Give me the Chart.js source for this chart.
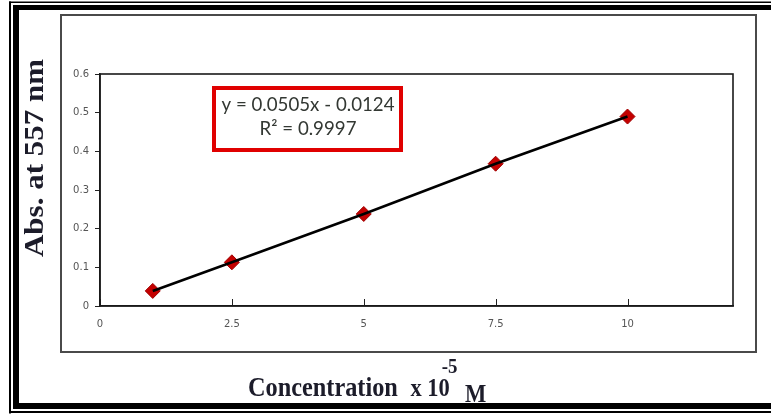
<!DOCTYPE html>
<html>
<head>
<meta charset="utf-8">
<script src="https://cdn.jsdelivr.net/npm/chart.js@4.4.1/dist/chart.umd.min.js"></script>
<style>
html,body{margin:0;padding:0;background:#fff;overflow:hidden;}
canvas{display:block;}
</style>
</head>
<body>
<canvas id="c" width="771" height="415"></canvas>
<script>
// ---- data ----
const concentrations = [1, 2.5, 5, 7.5, 10];
const absorbances = [0.039, 0.113, 0.238, 0.368, 0.490];
const xTicks = [0, 2.5, 5, 7.5, 10];
const yTicks = [0, 0.1, 0.2, 0.3, 0.4, 0.5, 0.6];
const xMax = 12;
const yMax = 0.6;
const equationLines = ['y = 0.0505x - 0.0124', 'R² = 0.9997'];
const yTitle = 'Abs. at 557 nm';
const xTitleMain = 'Concentration';
const xTitleTen = 'x 10';
const xTitleExp = '-5';
const xTitleUnit = 'M';

const points = concentrations.map((x, i) => ({x: x, y: absorbances[i]}));

const decor = {
  id: 'decor',
  beforeDraw(chart) {
    const ctx = chart.ctx;
    ctx.save();
    ctx.fillStyle = '#fff';
    ctx.fillRect(0, 0, chart.width, chart.height);
    // outer double frame (thin + thick), right side runs off the picture
    ctx.fillStyle = '#000';
    ctx.fillRect(9, 1.5, 800, 1.5);
    ctx.fillRect(9, 1.5, 2, 412);
    ctx.fillRect(9, 411, 800, 2);
    ctx.fillRect(13, 5, 800, 5);
    ctx.fillRect(13, 5, 6, 404);
    ctx.fillRect(13, 403, 800, 6);
    // gray inner box
    ctx.strokeStyle = '#4a4a4a';
    ctx.lineWidth = 2;
    ctx.strokeRect(61, 15, 695, 337);
    ctx.restore();
  },
  afterDraw(chart) {
    const ctx = chart.ctx;
    const a = chart.chartArea;
    const xs = chart.scales.x;
    ctx.save();
    // inward x ticks
    ctx.strokeStyle = '#222';
    ctx.lineWidth = 1;
    xTicks.forEach(v => {
      const px = Math.round(xs.getPixelForValue(v)) + 0.5;
      ctx.beginPath();
      ctx.moveTo(px, a.bottom);
      ctx.lineTo(px, a.bottom - 7);
      ctx.stroke();
    });
    // plot frame
    ctx.strokeStyle = '#1a1a1a';
    ctx.lineWidth = 1.6;
    ctx.strokeRect(a.left, a.top, a.right - a.left, a.bottom - a.top);

    // equation box
    ctx.fillStyle = '#fff';
    ctx.fillRect(212, 86, 191, 65);
    ctx.strokeStyle = '#e00000';
    ctx.lineWidth = 4;
    ctx.strokeRect(214, 88, 187, 62);
    ctx.fillStyle = '#333833';
    ctx.font = '19px Lato, "Open Sans", sans-serif';
    ctx.textBaseline = 'middle';
    ctx.textAlign = 'center';
    const w0 = ctx.measureText(equationLines[0]).width;
    const sc = 173 / w0;
    [[equationLines[0], 105], [equationLines[1], 129]].forEach(([t, y]) => {
      ctx.save();
      ctx.translate(308, y);
      ctx.scale(sc, 1);
      ctx.fillText(t, 0, 0);
      ctx.restore();
    });

    // y title
    ctx.save();
    ctx.translate(43, 158);
    ctx.rotate(-Math.PI / 2);
    ctx.scale(1, 0.9);
    ctx.font = 'bold 31px "Liberation Serif", "DejaVu Serif", serif';
    ctx.fillStyle = '#1c1c2a';
    ctx.textAlign = 'center';
    ctx.textBaseline = 'alphabetic';
    ctx.fillText(yTitle, 0, 0);
    ctx.restore();

    // x title
    ctx.save();
    ctx.fillStyle = '#1c1c2a';
    ctx.textBaseline = 'alphabetic';
    ctx.textAlign = 'left';
    ctx.translate(248, 396);
    ctx.scale(0.9, 1);
    ctx.font = 'bold 27px "Liberation Serif", serif';
    ctx.fillText(xTitleMain, 0, 0);
    const w1 = ctx.measureText(xTitleMain).width;
    ctx.font = 'bold 25px "Liberation Serif", serif';
    let xp = w1 + 14;
    ctx.fillText(xTitleTen, xp, 0);
    const w2 = ctx.measureText(xTitleTen).width;
    xp += w2;
    ctx.font = 'bold 21px "Liberation Serif", serif';
    ctx.fillText(xTitleExp, xp - 9, -23);
    ctx.font = 'bold 25px "Liberation Serif", serif';
    ctx.fillText(xTitleUnit, xp + 17, 6);
    ctx.restore();

    ctx.restore();
  }
};

new Chart(document.getElementById('c'), {
  type: 'scatter',
  data: {
    datasets: [
      {
        data: points,
        showLine: false,
        pointStyle: 'rectRot',
        pointRadius: 7.5,
        pointBackgroundColor: '#c40000',
        pointBorderColor: '#a00000',
        pointBorderWidth: 1,
        order: 2
      },
      {
        data: points,
        showLine: true,
        borderColor: '#000',
        borderWidth: 2.6,
        pointRadius: 0,
        fill: false,
        order: 1
      }
    ]
  },
  options: {
    responsive: false,
    animation: false,
    layout: {padding: {left: 60, top: 74, right: 38, bottom: 79}},
    plugins: {legend: {display: false}, tooltip: {enabled: false}},
    scales: {
      x: {
        type: 'linear',
        min: 0,
        max: xMax,
        afterBuildTicks: s => { s.ticks = xTicks.map(v => ({value: v})); },
        afterFit: s => { s.height = 30; },
        grid: {display: false},
        border: {display: true, color: '#1a1a1a', width: 1.6},
        ticks: {
          padding: 4,
          color: '#555',
          font: {size: 10, family: '"DejaVu Sans", sans-serif'},
          callback: v => String(v)
        }
      },
      y: {
        type: 'linear',
        min: 0,
        max: yMax,
        afterBuildTicks: s => { s.ticks = yTicks.map(v => ({value: v})); },
        afterFit: s => { s.width = 40; },
        grid: {drawOnChartArea: false, tickLength: 5, color: '#222', tickWidth: 1},
        border: {display: true, color: '#1a1a1a', width: 1.6},
        ticks: {
          padding: 6,
          color: '#555',
          font: {size: 10, family: '"DejaVu Sans", sans-serif'},
          callback: v => String(+v.toFixed(1))
        }
      }
    }
  },
  plugins: [decor]
});
</script>
</body>
</html>
